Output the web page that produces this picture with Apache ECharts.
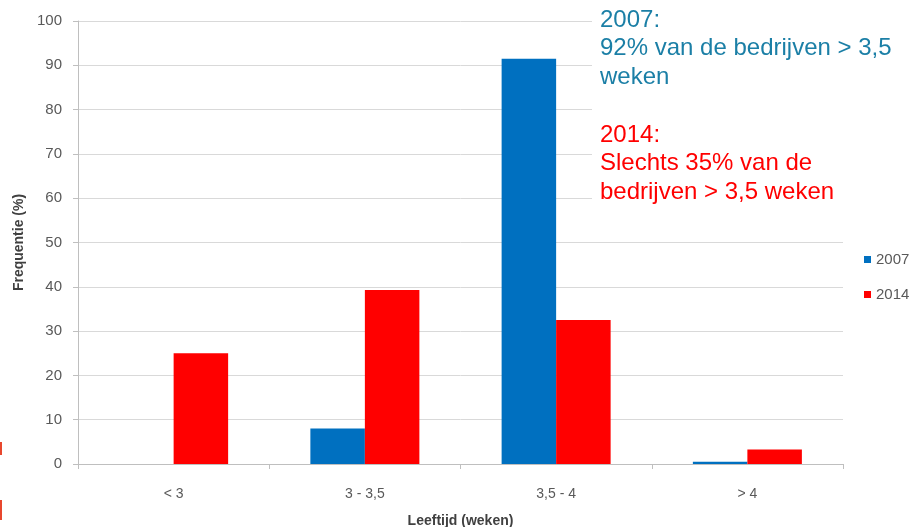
<!DOCTYPE html>
<html>
<head>
<meta charset="utf-8">
<script src="https://cdn.jsdelivr.net/npm/echarts@6/dist/echarts.min.js"></script>
<style>
  html, body { margin: 0; padding: 0; background: #fff; }
  #chart { width: 924px; height: 527px; }
</style>
</head>
<body>
<div id="chart"></div>
<script>
const categories = ["< 3", "3 - 3,5", "3,5 - 4", "> 4"];
const values2007 = [0, 8, 91.5, 0.5];
const values2014 = [25, 39.3, 32.5, 3.3];
const seriesNames = ["2007", "2014"];
const note2007 = ["2007:", "92% van de bedrijven > 3,5", "weken"];
const note2014 = ["2014:", "Slechts 35% van de", "bedrijven > 3,5 weken"];

const blue = "#0070c0";
const red = "#ff0000";
const axisGray = "#bfbfbf";
const labelGray = "#595959";

const chart = echarts.init(document.getElementById("chart"));

const option = {
    animation: false,
    textStyle: {fontFamily: "Liberation Sans"},
    grid: {left: 78, right: 81, top: 21, bottom: 63, outerBoundsMode: "none", containLabel: false},
    legend: {
        orient: "vertical",
        left: 859,
        top: 247,
        itemWidth: 7,
        itemHeight: 7,
        itemGap: 20,
        icon: "rect",
        textStyle: {color: labelGray, fontSize: 15},
        data: seriesNames,
    },
    xAxis: {
        type: "category",
        data: categories,
        name: "Leeftijd (weken)",
        nameLocation: "middle",
        nameGap: 50,
        nameTextStyle: {color: "#404040", fontSize: 14, fontWeight: "bold"},
        axisLine: {lineStyle: {color: axisGray}},
        axisTick: {show: true, length: 5, lineStyle: {color: axisGray}},
        axisLabel: {color: labelGray, fontSize: 14, margin: 23},
    },
    yAxis: {
        type: "value",
        min: 0,
        max: 100,
        interval: 10,
        name: "Frequentie (%)",
        nameLocation: "middle",
        nameGap: 52,
        nameTextStyle: {color: "#404040", fontSize: 14, fontWeight: "bold"},
        axisLine: {show: true, lineStyle: {color: axisGray}},
        axisTick: {show: true, length: 5, lineStyle: {color: axisGray}},
        axisLabel: {color: labelGray, fontSize: 15, margin: 16},
        splitLine: {lineStyle: {color: "#d9d9d9"}},
    },
    series: [
        {
            name: seriesNames[0],
            type: "bar",
            data: values2007,
            itemStyle: {color: blue},
            barGap: "0%",
            barCategoryGap: "43%",
        },
        {
            name: seriesNames[1],
            type: "bar",
            data: values2014,
            itemStyle: {color: red},
            barGap: "0%",
            barCategoryGap: "43%",
        },
    ],
    graphic: [
        // white box behind the notes hides the grid lines
        {type: "rect", left: 592, top: 0, shape: {width: 332, height: 215}, style: {fill: "#fff"}, z: 100},
        {
            type: "text", left: 600, top: 6, z: 101,
            style: {text: note2007.join("\n"), fill: "#1b7fa6", fontSize: 24, lineHeight: 28.5, fontFamily: "Liberation Sans"},
        },
        {
            type: "text", left: 600, top: 121, z: 101,
            style: {text: note2014.join("\n"), fill: red, fontSize: 24, lineHeight: 28.5, fontFamily: "Liberation Sans"},
        },
        // small red marks at the left edge
        {type: "rect", left: 0, top: 442, shape: {width: 2, height: 13}, style: {fill: "#e8472e"}, z: 101},
        {type: "rect", left: 0, top: 500, shape: {width: 2, height: 20}, style: {fill: "#e8472e"}, z: 101},
    ],
};

chart.setOption(option);
</script>
</body>
</html>
